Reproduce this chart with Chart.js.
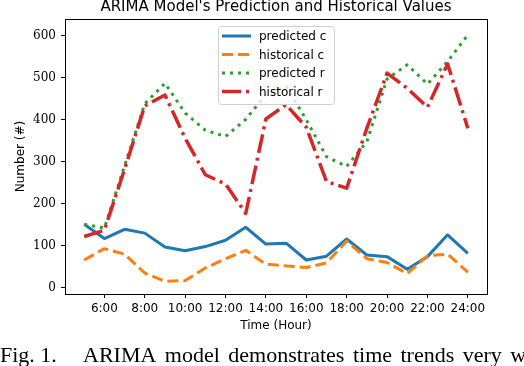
<!DOCTYPE html>
<html>
<head>
<meta charset="utf-8">
<script src="https://cdn.jsdelivr.net/npm/chart.js@4/dist/chart.umd.min.js"></script>
<style>
  html, body { margin: 0; padding: 0; background: #fff; }
  #wrap { width: 524px; height: 366px; position: relative; }
</style>
</head>
<body>
<div id="wrap"><canvas id="chart" width="524" height="366"></canvas></div>
<script>
const hours = [5, 6, 7, 8, 9, 10, 11, 12, 13, 14, 15, 16, 17, 18, 19, 20, 21, 22, 23, 24];
const predictedC = [151, 117, 139, 130, 97, 88, 98, 113, 144, 104, 106, 66, 75, 116, 78, 74, 44, 74, 126, 82];
const historicalC = [66, 93, 80, 35, 15, 17, 47, 69, 89, 56, 52, 48, 59, 111, 69, 60, 34, 76, 80, 37];
const predictedR = [151, 142, 290, 438, 487, 416, 375, 360, 401, 460, 480, 400, 312, 289, 348, 497, 531, 485, 539, 602];
const historicalR = [122, 137, 282, 433, 459, 356, 269, 247, 177, 402, 436, 382, 253, 237, 380, 511, 475, 430, 533, 380];
const xTicks = [6, 8, 10, 12, 14, 16, 18, 20, 22, 24];
const yTicks = [0, 100, 200, 300, 400, 500, 600];

const SANS = "'DejaVu Sans', sans-serif";

function pts(values) {
  return hours.map((h, i) => ({ x: h, y: values[i] }));
}

function line(label, values, color, width, dash, order) {
  return {
    label: label,
    data: pts(values),
    borderColor: color,
    backgroundColor: color,
    borderWidth: width,
    borderDash: dash,
    borderCapStyle: "butt",
    borderJoinStyle: "round",
    pointRadius: 0,
    tension: 0,
    fill: false,
    order: order,
  };
}

// titles, legend box, caption and frame drawn on top
const decorations = {
  id: "decorations",
  afterDraw(chart) {
    const ctx = chart.ctx;
    const a = chart.chartArea;
    ctx.save();

    ctx.strokeStyle = "#000";
    ctx.lineWidth = 1;
    ctx.setLineDash([]);
    ctx.strokeRect(a.left + 0.5, a.top + 0.5, a.right - a.left, a.bottom - a.top);

    ctx.fillStyle = "#000";
    ctx.textAlign = "center";
    ctx.textBaseline = "middle";
    ctx.font = "15px " + SANS;
    ctx.fillText("ARIMA Model's Prediction and Historical Values", (a.left + a.right) / 2, 7.5);

    ctx.font = "12px " + SANS;
    ctx.fillText("Time (Hour)", (a.left + a.right) / 2, 326);

    ctx.save();
    ctx.translate(21, (a.top + a.bottom) / 2);
    ctx.rotate(-Math.PI / 2);
    ctx.fillText("Number (#)", 0, 0);
    ctx.restore();

    // legend
    const bx = 218, by = 26, bw = 116, bh = 78;
    ctx.beginPath();
    ctx.roundRect(bx + 0.5, by + 0.5, bw, bh, 3);
    ctx.fillStyle = "rgba(255,255,255,0.8)";
    ctx.fill();
    ctx.strokeStyle = "#d0d0d0";
    ctx.lineWidth = 1;
    ctx.stroke();

    const rows = [36, 54.5, 73, 91.5];
    ctx.textAlign = "left";
    ctx.font = "12px " + SANS;
    chart.data.datasets.forEach((ds, i) => {
      const y = rows[i];
      ctx.beginPath();
      ctx.strokeStyle = ds.borderColor;
      ctx.lineWidth = ds.borderWidth;
      ctx.lineCap = "butt";
      ctx.setLineDash(ds.borderDash);
      ctx.moveTo(222, y);
      ctx.lineTo(251, y);
      ctx.stroke();
      ctx.setLineDash([]);
      ctx.fillStyle = "#000";
      ctx.fillText(ds.label, 259, y + 1);
    });

    // figure caption
    ctx.font = "22px 'Liberation Serif', serif";
    ctx.textBaseline = "alphabetic";
    ctx.fillText("Fig. 1.", 0, 362);
    ctx.wordSpacing = "3px";
    ctx.fillText("ARIMA model demonstrates time trends very well", 83, 362);

    ctx.restore();
  },
};

new Chart(document.getElementById("chart"), {
  type: "line",
  data: {
    datasets: [
      line("predicted c", predictedC, "#1f77b4", 3, [], 3),
      line("historical c", historicalC, "#ff7f0e", 3, [11, 5], 2),
      line("predicted r", predictedR, "#2ca02c", 3, [3, 5], 1),
      line("historical r", historicalR, "#d62728", 3.5, [19, 5, 3, 5], 0),
    ],
  },
  options: {
    responsive: false,
    animation: false,
    layout: { padding: { top: 19, right: 37, bottom: 0, left: 0 } },
    plugins: {
      legend: { display: false },
      title: { display: false },
      tooltip: { enabled: false },
    },
    scales: {
      x: {
        type: "linear",
        min: 4.05,
        max: 24.95,
        afterBuildTicks: (scale) => {
          scale.ticks = xTicks.map((v) => ({ value: v }));
        },
        afterFit: (scale) => {
          scale.height = 72;
          scale.paddingLeft = 0;
          scale.paddingRight = 0;
        },
        border: { display: false },
        grid: {
          drawOnChartArea: false,
          drawTicks: true,
          tickLength: 4,
          color: "#000",
        },
        ticks: {
          autoSkip: false,
          maxRotation: 0,
          padding: 4,
          color: "#000",
          font: { family: SANS, size: 12 },
          callback: (v) => v + ":00",
        },
      },
      y: {
        min: -15,
        max: 640,
        afterBuildTicks: (scale) => {
          scale.ticks = yTicks.map((v) => ({ value: v }));
        },
        afterFit: (scale) => {
          scale.width = 65;
          scale.paddingTop = 0;
          scale.paddingBottom = 0;
        },
        border: { display: false },
        grid: {
          drawOnChartArea: false,
          drawTicks: true,
          tickLength: 4,
          color: "#000",
        },
        ticks: {
          padding: 5,
          color: "#000",
          font: { family: "'DejaVu Serif', serif", size: 12 },
        },
      },
    },
  },
  plugins: [decorations],
});
</script>
</body>
</html>
